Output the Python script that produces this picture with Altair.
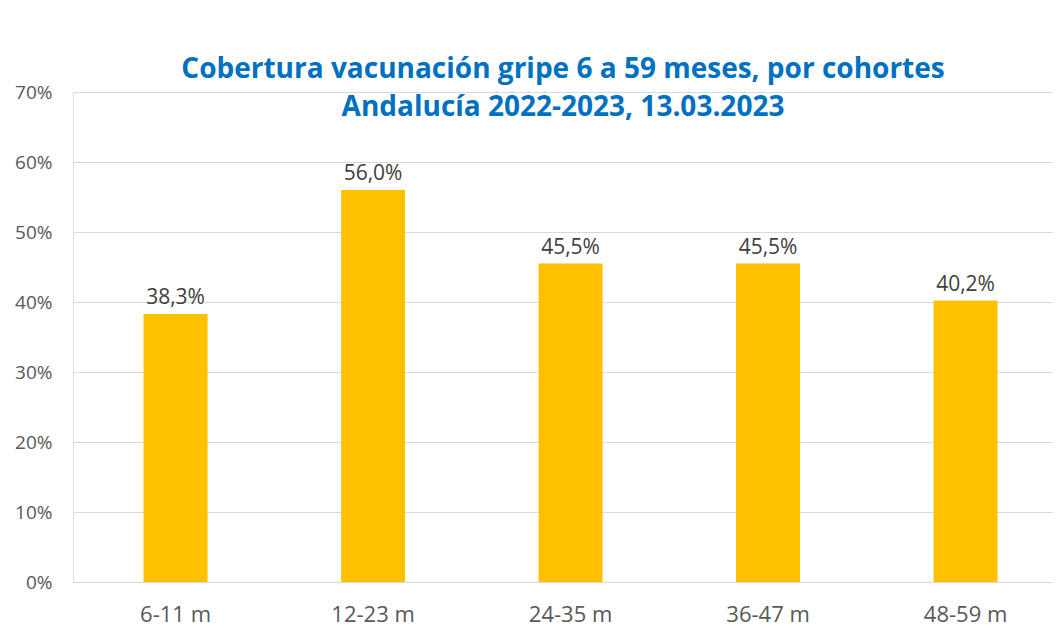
import altair as alt
import pandas as pd

cohortes = ["6-11 m", "12-23 m", "24-35 m", "36-47 m", "48-59 m"]
cobertura = [38.3, 56.0, 45.5, 45.5, 40.2]
y_ticks = [0, 10, 20, 30, 40, 50, 60, 70]
titulo = ["Cobertura vacunación gripe 6 a 59 meses, por cohortes",
          "Andalucía 2022-2023, 13.03.2023"]

df = pd.DataFrame({"cohorte": cohortes, "cobertura": cobertura})

FONT = "Open Sans"

x = alt.X(
    "cohorte:N", sort=cohortes, title=None,
    scale=alt.Scale(paddingInner=0.676, paddingOuter=0.319, align=0.56),
    axis=alt.Axis(labelAngle=0, labelFont=FONT, labelFontSize=22,
                  labelColor="#595959", labelPadding=22, ticks=False,
                  domain=False, grid=False),
)
y = alt.Y(
    "cobertura:Q", title=None,
    scale=alt.Scale(domain=[0, 70], nice=False),
    axis=alt.Axis(values=y_ticks, labelExpr="datum.value + '%'",
                  labelFont=FONT, labelFontSize=19, labelColor="#595959",
                  labelPadding=21, ticks=False, domain=False,
                  gridColor="#D9D9D9", gridWidth=1),
)

bars = alt.Chart(df).mark_bar(color="#FFC000").encode(x=x, y=y)

text = alt.Chart(df).transform_calculate(
    lbl="replace(format(datum.cobertura, '.1f'), '.', ',') + '%'"
).mark_text(
    baseline="bottom", dy=-6, font=FONT, fontSize=21, color="#404040"
).encode(x=x, y=y, text="lbl:N")

chart = (bars + text).properties(
    width=980,
    height=490,
    padding={"left": 65, "top": 84, "right": 0, "bottom": 44},
    autosize=alt.AutoSizeParams(type="none"),
    title=alt.TitleParams(
        text=titulo, color="#0070C0", font=FONT, fontSize=28,
        fontWeight="bold", anchor="middle", frame="group", offset=0,
        dy=67, baseline="bottom", lineHeight=38,
    ),
).configure_view(stroke=None).configure(background="white")

chart.save("out.html", embed_options={"renderer": "svg", "actions": False})
